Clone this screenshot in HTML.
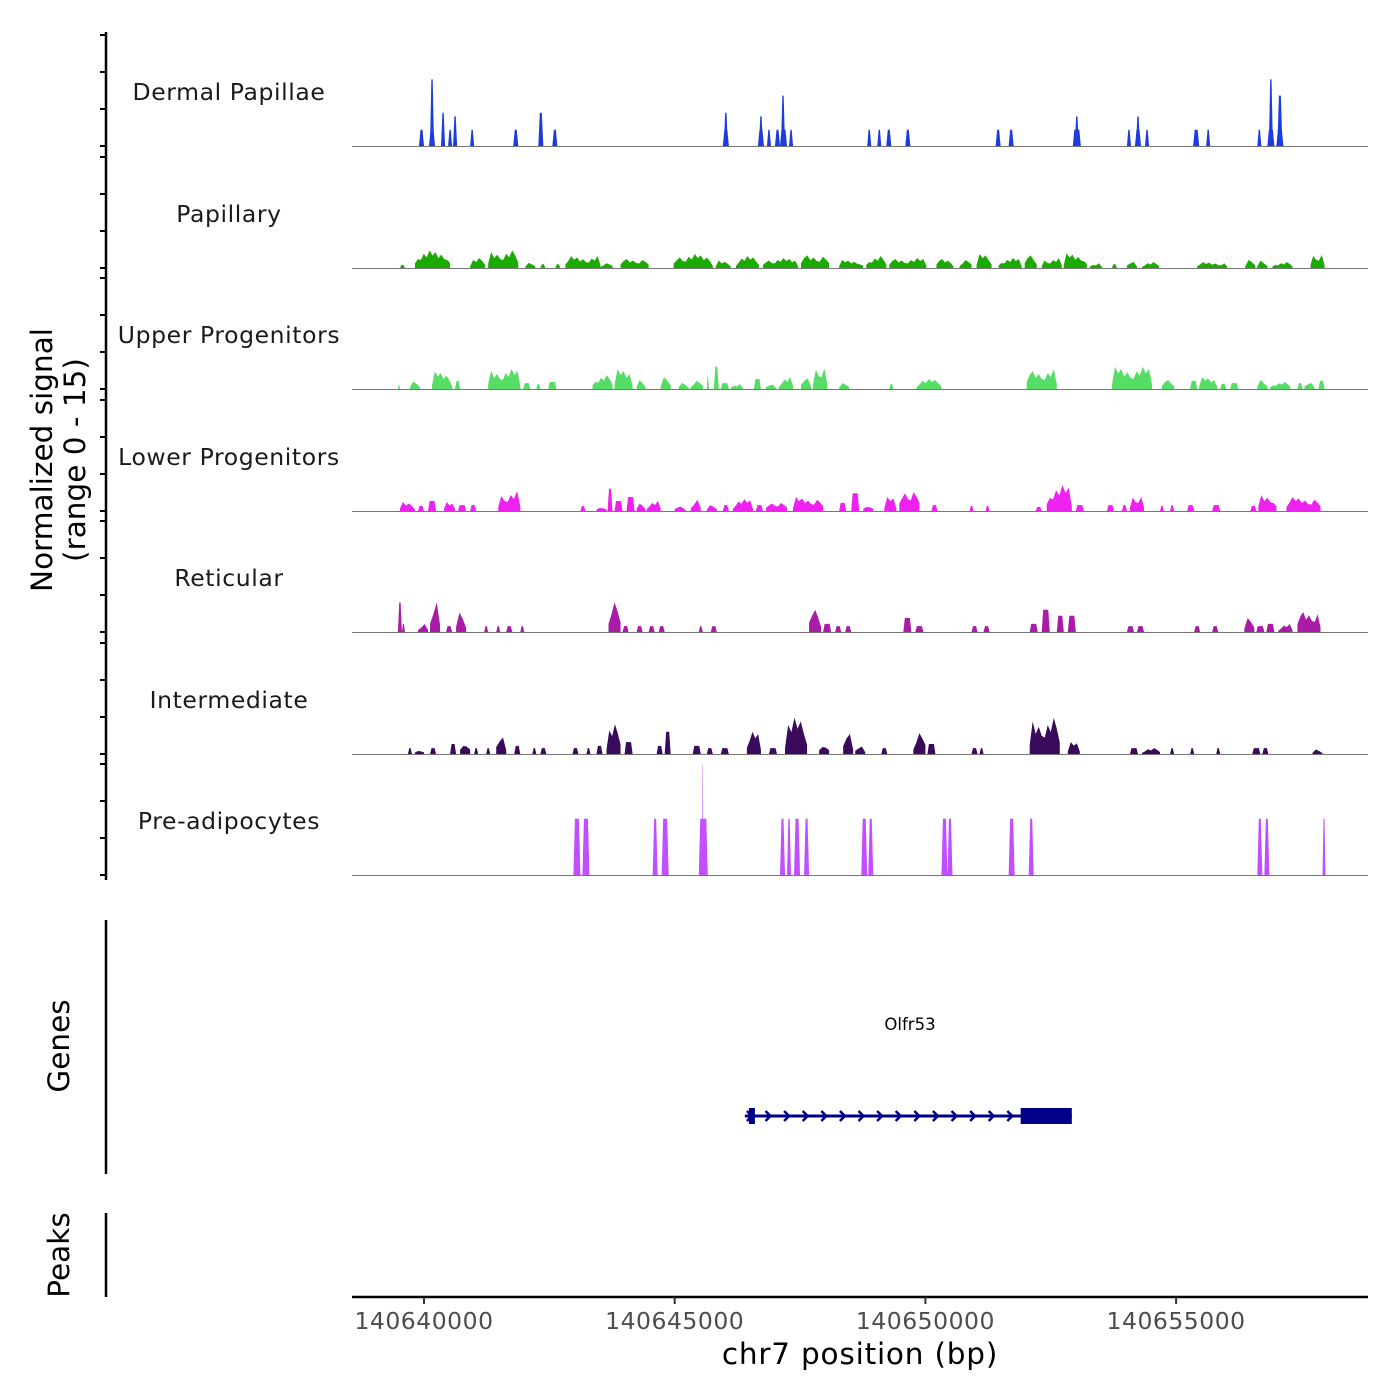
<!DOCTYPE html>
<html><head><meta charset="utf-8"><style>
html,body{margin:0;padding:0;background:#fff;}
svg{display:block;font-family:"DejaVu Sans","Liberation Sans",sans-serif;}
</style></head><body>
<svg id="chart" width="1400" height="1400" viewBox="0 0 1400 1400">
<g id="tracks"></g>
<g id="axes"></g>
</svg>
<script>
// Region: kb offsets relative to 140640000
const xTicksKb = [0, 5, 10, 15];
const xTickLabels = ["140640000", "140645000", "140650000", "140655000"];
const trackNames = ["Dermal Papillae","Papillary","Upper Progenitors","Lower Progenitors","Reticular","Intermediate","Pre-adipocytes"];
const trackColors = ["#1c3ce0","#1aaa00","#55dd66","#ee22ee","#a81ca8","#3a0a5c","#c050ff"];
const yTickValues = [0, 5, 10, 15];
// segments: [startKb, endKb, value]
const dermalPapillae = [[-0.1,0.0,2.2],[0.1,0.22,2.2],[0.12,0.2,9],[0.34,0.42,2.2],[0.34,0.42,4.5],[0.48,0.56,2.2],[0.58,0.66,2.2],[0.58,0.66,4],[0.92,1.0,2.2],[1.78,1.88,2.2],[2.28,2.38,4.5],[2.56,2.66,2.2],[5.96,6.08,2.2],[5.98,6.06,4.5],[6.66,6.78,2.2],[6.68,6.76,4],[6.84,6.92,2.2],[7.0,7.1,2.2],[7.1,7.24,2.2],[7.12,7.2,6.8],[7.28,7.36,2.2],[8.84,8.92,2.2],[9.04,9.12,2.2],[9.22,9.32,2.2],[9.6,9.7,2.2],[11.4,11.5,2.2],[11.66,11.76,2.2],[12.94,13.1,2.2],[12.98,13.06,4],[14.02,14.1,2.2],[14.18,14.3,2.2],[14.2,14.28,4],[14.38,14.46,2.2],[15.34,15.46,2.2],[15.6,15.68,2.2],[16.62,16.7,2.2],[16.82,16.96,2.2],[16.85,16.93,9],[17.0,17.14,2.2],[17.02,17.12,6.8]];
const papillary = [[-0.48,-0.38,0.4],[-0.18,0.52,2.4],[0.92,1.22,1.35],[1.28,1.88,2.4],[2.02,2.22,0.7],[2.32,2.42,0.5],[2.62,2.72,0.5],[2.82,3.52,1.6],[3.52,3.76,0.8],[3.92,4.48,1.35],[4.98,5.76,1.9],[5.82,6.12,1.1],[6.22,6.68,1.6],[6.76,7.46,1.35],[7.52,8.08,1.9],[8.28,8.76,1.1],[8.82,9.22,1.6],[9.28,10.02,1.35],[10.22,10.56,1.35],[10.68,10.92,1.35],[11.02,11.32,1.9],[11.46,11.92,1.35],[11.98,12.22,1.9],[12.32,12.72,1.35],[12.76,13.22,2.0],[13.28,13.52,0.8],[13.72,13.82,0.5],[14.02,14.22,1.1],[14.32,14.66,0.8],[15.42,16.02,0.8],[16.38,16.58,1.1],[16.62,16.82,1.1],[16.92,17.32,0.8],[17.68,17.96,2.2]];
const upperProgenitors = [[-0.52,-0.48,0.55],[-0.28,-0.08,1.35],[0.16,0.56,2.4],[0.62,0.72,1.1],[1.28,1.92,2.7],[1.98,2.12,0.8],[2.24,2.32,0.7],[2.48,2.64,0.95],[3.36,3.76,1.9],[3.8,4.16,2.7],[4.24,4.42,1.6],[4.72,4.92,1.6],[5.08,5.28,1.1],[5.32,5.56,1.35],[5.64,5.68,1.6],[5.78,5.88,3.0],[5.92,6.08,0.8],[6.12,6.36,0.8],[6.58,6.72,1.35],[6.82,7.02,0.8],[7.08,7.36,1.6],[7.52,7.72,1.6],[7.76,8.04,3.5],[8.28,8.48,0.8],[9.28,9.36,0.7],[9.82,10.32,1.35],[12.02,12.62,2.7],[13.72,14.52,3.0],[14.72,14.96,1.35],[15.28,15.42,1.1],[15.46,15.82,1.6],[15.88,16.0,0.7],[16.08,16.24,0.8],[16.62,16.82,1.35],[16.88,17.28,0.95],[17.42,17.52,0.8],[17.56,17.76,1.1],[17.84,17.96,1.1]];
const lowerProgenitors = [[-0.48,-0.18,1.35],[-0.12,0,0.7],[0.08,0.24,1.35],[0.4,0.62,1.35],[0.68,0.84,0.8],[0.92,1.04,0.8],[1.48,1.92,2.7],[3.12,3.22,0.7],[3.44,3.64,0.8],[3.66,3.76,3.0],[3.8,3.96,1.35],[4.04,4.2,1.9],[4.24,4.42,1.35],[4.44,4.72,1.35],[5.0,5.22,0.8],[5.32,5.52,1.9],[5.64,5.84,0.8],[5.96,6.08,0.8],[6.16,6.56,1.6],[6.62,6.76,0.8],[6.82,7.24,1.35],[7.36,7.96,1.9],[8.28,8.42,1.1],[8.52,8.68,2.4],[8.76,8.96,1.1],[9.18,9.42,1.9],[9.48,9.88,3.2],[10.12,10.24,0.8],[10.88,10.96,0.7],[11.2,11.28,0.7],[12.2,12.32,0.55],[12.42,12.92,3.5],[13.0,13.16,0.8],[13.62,13.76,0.8],[13.92,14.02,0.8],[14.08,14.36,2.4],[14.68,14.76,0.7],[14.88,14.96,0.8],[15.22,15.36,0.8],[15.72,15.88,0.8],[16.48,16.6,0.7],[16.64,17.0,2.4],[17.2,17.88,1.9]];
const reticular = [[-0.52,-0.44,4.0],[-0.44,-0.38,1.1],[-0.12,0.08,1.35],[0.12,0.32,4.0],[0.44,0.56,0.8],[0.64,0.84,3.5],[1.2,1.28,0.8],[1.44,1.52,0.8],[1.64,1.76,0.8],[1.92,2.0,0.8],[3.68,3.92,4.0],[3.96,4.08,0.8],[4.24,4.36,0.8],[4.48,4.6,0.8],[4.68,4.8,0.8],[5.48,5.56,0.8],[5.72,5.84,0.8],[7.68,7.92,4.0],[7.96,8.12,1.1],[8.2,8.32,0.8],[8.4,8.52,0.8],[9.56,9.72,1.9],[9.8,9.96,0.8],[10.92,11.04,0.8],[11.16,11.28,0.8],[12.08,12.24,1.1],[12.32,12.48,3.0],[12.62,12.76,2.2],[12.84,13.0,2.2],[14.02,14.16,0.8],[14.22,14.36,0.8],[15.36,15.48,0.8],[15.72,15.84,0.8],[16.36,16.56,1.9],[16.6,16.76,0.8],[16.8,16.96,1.1],[17.04,17.32,1.1],[17.42,17.88,3.0]];
const intermediate = [[-0.32,-0.24,0.8],[-0.18,0,0.8],[0.12,0.24,0.8],[0.52,0.64,1.35],[0.72,0.92,2.2],[1.0,1.08,0.8],[1.24,1.32,0.8],[1.44,1.64,3.0],[1.8,1.92,1.1],[2.16,2.24,0.8],[2.32,2.44,0.8],[2.96,3.08,0.8],[3.24,3.32,0.8],[3.44,3.56,1.1],[3.64,3.92,4.0],[4.0,4.16,1.6],[4.64,4.76,1.1],[4.8,4.92,3.0],[5.36,5.52,1.1],[5.64,5.76,0.8],[5.92,6.08,0.8],[6.44,6.72,3.0],[6.88,7.04,0.8],[7.2,7.64,4.9],[7.88,8.08,1.9],[8.36,8.56,3.0],[8.6,8.8,1.35],[9.12,9.24,0.8],[9.76,10.0,3.5],[10.04,10.2,1.35],[10.92,11.04,0.8],[11.08,11.16,0.8],[12.08,12.68,4.9],[12.84,13.08,1.6],[14.08,14.24,0.8],[14.32,14.68,0.8],[14.88,14.96,0.8],[15.28,15.36,0.8],[15.8,15.88,0.8],[16.52,16.68,0.8],[16.72,16.84,0.8],[17.72,17.92,0.8]];
const preAdipocytes = [[2.98,3.12,7.6],[3.16,3.3,7.6],[4.56,4.66,7.6],[4.74,4.88,7.6],[5.48,5.66,7.6],[5.55,5.57,14.9],[7.1,7.2,7.6],[7.24,7.32,7.6],[7.38,7.5,7.6],[7.58,7.68,7.6],[8.72,8.84,7.6],[8.86,8.96,7.6],[10.32,10.44,7.6],[10.44,10.54,7.6],[11.66,11.78,7.6],[12.06,12.16,7.6],[16.62,16.72,7.6],[16.76,16.86,7.6],[17.92,17.98,7.6]];
const trackData = [dermalPapillae, papillary, upperProgenitors, lowerProgenitors, reticular, intermediate, preAdipocytes];
// gene model (kb)
const geneStartKb = 6.4, geneEndKb = 12.92;
const exonsKb = [[6.48,6.6],[11.9,12.92]];
const geneName = "Olfr53";

const NS = "http://www.w3.org/2000/svg";
const plotX0 = 352, plotX1 = 1368;
const xScale = kb => 424 + kb * 50.14;
const baselines = [146, 268, 389, 511, 632, 754, 875];
const yScale = (v, b) => b - v * 7.4;
// purely visual texture for wide peaks (fractions of peak height)
const texture = [0.45, 0.8, 0.6, 1.0, 0.7, 0.9, 0.55, 0.75, 0.5];
function mk(tag, attrs, parent, text) {
  const e = document.createElementNS(NS, tag);
  for (const k in attrs) e.setAttribute(k, attrs[k]);
  if (text !== undefined) e.textContent = text;
  parent.appendChild(e);
  return e;
}
const tracks = document.getElementById('tracks');
const axes = document.getElementById('axes');

trackData.forEach((segs, i) => {
  const b = baselines[i];
  const g = mk('g', {}, tracks);
  
  
  const lbl = mk('text', {x: 229, y: b - 46, 'text-anchor': 'middle', 'font-size': 23.5, fill: '#1a1a1a', 'letter-spacing': 0.6}, g, trackNames[i]);
  
  
  segs.forEach(s => {
    const x0 = xScale(s[0]), x1 = xScale(s[1]), h = s[2] * 7.4;
    const w = x1 - x0;
    let pts;
    if (w > 9 && i > 0 && i < 6) {
      const n = Math.max(3, Math.round(w / 3));
      const L = texture.length;
      const off = ((Math.round(s[0] * 10) % L) + L) % L;
      pts = [`${x0},${b}`];
      for (let k = 0; k <= n; k++) {
        const f = texture[(k + off) % L];
        const edge = Math.min(1, Math.min(k, n - k) / 1.5 + 0.35);
        pts.push(`${x0 + w * k / n},${b - h * f * edge}`);
      }
      pts.push(`${x1},${b}`);
      pts = pts.join(' ');
    } else {
      const inset = Math.min(1.5, w / 3);
      const y = b - h;
      pts = `${x0},${b} ${x0+inset},${y} ${x1-inset},${y} ${x1},${b}`;
    }
    const p = mk('polygon', {points: pts, fill: trackColors[i]}, g);
    
    
  });
  const bl = mk('line', {x1: plotX0, x2: plotX1, y1: b + 0.5, y2: b + 0.5, stroke: '#777', 'stroke-width': 1}, g);
  
  
});

// y-axis for signal
const ya = mk('line', {x1: 106, x2: 106, y1: 32, y2: 880, stroke: '#000', 'stroke-width': 2.5}, axes);


baselines.forEach(b => {
  yTickValues.forEach(v => {
    const yy = yScale(v, b);
    const t = mk('line', {x1: 100, x2: 106, y1: yy, y2: yy, stroke: '#000', 'stroke-width': 2}, axes);
    
    
  });
});
const yt = mk('text', {transform: 'translate(52,460) rotate(-90)', 'text-anchor': 'middle', 'font-size': 29.5, fill: '#000'}, axes);


mk('tspan', {x: 0, dy: 0}, yt, 'Normalized signal');
mk('tspan', {x: 0, dy: 33}, yt, '(range 0 - 15)');

// genes panel
const ga = mk('line', {x1: 106, x2: 106, y1: 920, y2: 1174, stroke: '#000', 'stroke-width': 2.5}, axes);


const gt = mk('text', {transform: 'translate(69,1046) rotate(-90)', 'text-anchor': 'middle', 'font-size': 29.5, fill: '#000'}, axes, 'Genes');


const gene = mk('g', {}, axes);


const gy = 1116;
mk('line', {x1: xScale(geneStartKb), x2: xScale(geneEndKb), y1: gy, y2: gy, stroke: '#00008b', 'stroke-width': 3}, gene);
for (let x = xScale(geneStartKb) + 2; x < xScale(exonsKb[1][0]) - 4; x += 18.6) {
  mk('polyline', {points: `${x},${gy-5} ${x+5},${gy} ${x},${gy+5}`, fill: 'none', stroke: '#00008b', 'stroke-width': 2.5}, gene);
}
exonsKb.forEach(e => {
  const r = mk('rect', {x: xScale(e[0]), y: gy - 8, width: xScale(e[1]) - xScale(e[0]), height: 16, fill: '#00008b'}, gene);
  
  
});
const gl = mk('text', {x: 910, y: 1030, 'text-anchor': 'middle', 'font-size': 16.5, fill: '#000'}, gene, geneName);



// peaks panel
const pa = mk('line', {x1: 106, x2: 106, y1: 1213, y2: 1297, stroke: '#000', 'stroke-width': 2.5}, axes);


const pt = mk('text', {transform: 'translate(69,1255) rotate(-90)', 'text-anchor': 'middle', 'font-size': 29.5, fill: '#000'}, axes, 'Peaks');



// x axis
const xa = mk('line', {x1: plotX0, x2: plotX1, y1: 1297, y2: 1297, stroke: '#000', 'stroke-width': 2.5}, axes);


xTicksKb.forEach((kb, i) => {
  const x = xScale(kb);
  const t = mk('line', {x1: x, x2: x, y1: 1297, y2: 1304, stroke: '#333', 'stroke-width': 2}, axes);
  
  
  const l = mk('text', {x: x, y: 1329, 'text-anchor': 'middle', 'font-size': 23.5, fill: '#4d4d4d', 'letter-spacing': 0.5}, axes, xTickLabels[i]);
  
  
});
const xt = mk('text', {x: 860, y: 1364, 'text-anchor': 'middle', 'font-size': 29.5, fill: '#000', 'letter-spacing': 0.8}, axes, 'chr7 position (bp)');


</script>
</body></html>
